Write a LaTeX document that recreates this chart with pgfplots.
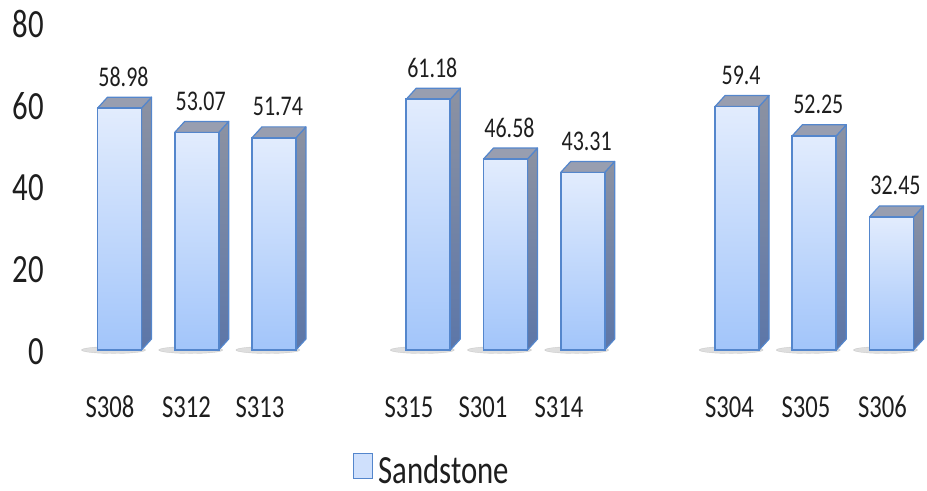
\documentclass[border=0pt]{standalone}
\usepackage{fontspec}
\setmainfont{Carlito}[FakeStretch=0.77]
\usepackage{pgfplots}
\pgfplotsset{compat=1.18}

\definecolor{frontTop}{RGB}{226,236,253}
\definecolor{frontBot}{RGB}{162,197,250}
\definecolor{edgeBlue}{RGB}{84,134,204}
\definecolor{sideTop}{RGB}{140,146,162}
\definecolor{sideBot}{RGB}{92,118,168}
\definecolor{topFace}{RGB}{152,158,176}
\definecolor{txt}{RGB}{30,30,30}

\pgfdeclareplotmark{empty}{}

\begin{document}
\begin{tikzpicture}
\begin{axis}[
    x=77.2bp, y=4.1bp,
    xmin=-0.95, xmax=10.45,
    ymin=0, ymax=80,
    clip=false,
    axis line style={draw=none},
    major tick length=0pt,
    /pgf/number format/assume math mode=true,
    ytick={0,20,40,60,80},
    yticklabel style={font=\fontsize{40bp}{42bp}\selectfont, text=txt, anchor=east, xshift=1bp, yshift=-2bp},
    xtick={-0.123,0.868,1.820,3.750,4.709,5.693,7.902,8.892,9.883},
    xticklabels={S308,S312,S313,S315,S301,S314,S304,S305,S306},
    xticklabel style={font=\fontsize{32bp}{34bp}\selectfont, text=txt, anchor=center, yshift=-57bp},
    nodes near coords,
    every node near coord/.append style={font=\fontsize{28.5bp}{30bp}\selectfont, text=txt, anchor=base, yshift=22bp, xshift=4bp},
    legend style={at={(0.4376,-0.364)}, anchor=center, draw=none, fill=none,
        inner sep=0pt, nodes={inner sep=1bp},
        font=\fontsize{40bp}{42bp}\selectfont, text=txt},
    legend image code/.code={%
        \path[draw=none, fill=none] (0bp,-8bp) rectangle (24bp,17bp);
        \draw[draw=edgeBlue, line width=1.2bp, fill=frontTop!70!frontBot] (0bp,-8bp) rectangle (19bp,17bp);},
]
\addplot[scatter, only marks, mark=empty,
    visualization depends on={rawy \as \barval},
    scatter/@pre marker code/.append code={%
        \pgfmathsetlengthmacro\barh{\barval*4.1bp}%
        \fill[black, opacity=0.13] (-6bp,-\barh) ellipse (32bp and 3.5bp);
        \shade[top color=sideTop, bottom color=sideBot, draw=edgeBlue, line width=1.2bp, line join=round]
            (22bp,0bp) -- (32bp,11bp) -- ([yshift=11bp]32bp,-\barh) -- (22bp,-\barh) -- cycle;
        \fill[topFace, draw=edgeBlue, line width=1.2bp, line join=round]
            (-22bp,0bp) -- (-12bp,11bp) -- (32bp,11bp) -- (22bp,0bp) -- cycle;
        \shade[top color=frontTop, bottom color=frontBot]
            (-22bp,-\barh) rectangle (22bp,0bp);
        \draw[edgeBlue, line width=1.8bp] (-22bp,-\barh) rectangle (22bp,0bp);
    },
] coordinates {
    (0,58.98) (1,53.07) (2,51.74)
    (4,61.18) (5,46.58) (6,43.31)
    (8,59.4) (9,52.25) (10,32.45)
};
\addlegendentry{Sandstone}
\coordinate (bbl) at (axis cs:-1.548,-34.39);
\coordinate (btr) at (axis cs:10.460,85.37);
\end{axis}
\pgfresetboundingbox
\path[use as bounding box] (bbl) rectangle (btr);
\end{tikzpicture}
\end{document}
